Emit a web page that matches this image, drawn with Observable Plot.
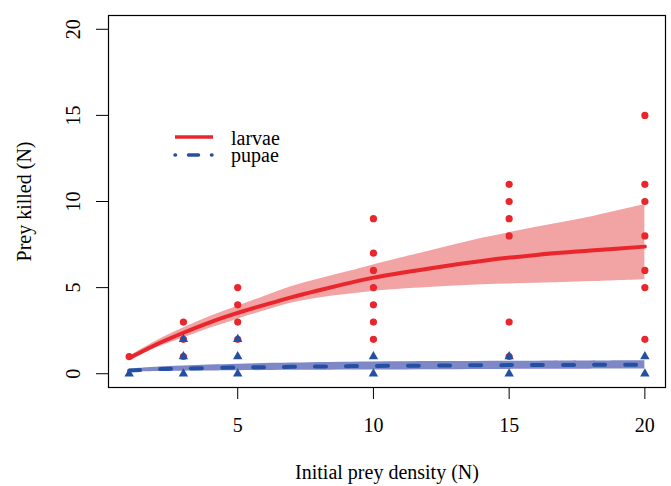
<!DOCTYPE html>
<html><head><meta charset="utf-8">
<script src="https://cdn.jsdelivr.net/npm/d3@7"></script>
<script src="https://cdn.jsdelivr.net/npm/@observablehq/plot@0.6"></script>
<style>body{margin:0;background:#fff}</style>
</head><body><div id="chart"></div>
<script>
// observed prey killed
const larvaeN      = [1, 3,3,3, 5,5,5,5, 10,10,10,10,10,10,10, 15,15,15,15,15,15, 20,20,20,20,20,20,20];
const larvaeKilled = [1, 3,2,1, 5,4,3,2, 9,7,6,5,4,3,2,        11,10,9,8,3,1,     15,11,10,8,6,5,2];
const pupaeN       = [1, 3,3,3, 5,5,5, 10,10, 15,15, 20,20];
const pupaeKilled  = [0, 2,1,0, 2,1,0, 1,0,   1,0,   1,0];
// fitted functional response with confidence band
const fitN       = [1, 2, 3, 4, 5, 6, 7, 8, 9, 10, 12, 14, 16, 18, 20];
const larvaeFit  = [0.9, 1.7, 2.38, 3.0, 3.53, 4.0, 4.45, 4.85, 5.23, 5.58, 6.1, 6.55, 6.9, 7.15, 7.38];
const larvaeLo   = [0.75, 1.5, 2.07, 2.65, 3.17, 3.65, 4.11, 4.4, 4.6, 4.78, 5.0, 5.17, 5.25, 5.35, 5.46];
const larvaeHi   = [1.0, 1.9, 2.65, 3.33, 3.92, 4.5, 5.07, 5.5, 5.9, 6.32, 7.1, 7.86, 8.5, 9.1, 9.82];
const pupaeFitN  = [1, 2, 3, 5, 7, 10, 15, 20];
const pupaeFit   = [0.18, 0.26, 0.3, 0.36, 0.4, 0.45, 0.5, 0.52];
const pupaeLo    = [0.08, 0.13, 0.15, 0.17, 0.2, 0.22, 0.25, 0.27];
const pupaeHi    = [0.28, 0.38, 0.45, 0.55, 0.62, 0.68, 0.72, 0.75];
const xTicks = [5, 10, 15, 20];
const yTicks = [0, 5, 10, 15, 20];
const seriesNames = ["larvae", "pupae"];

const red = "#e8262c", redBand = "#f2a3a4", blue = "#2350a3", blueBand = "#7f88c6";
const larvaePts = larvaeN.map((n, i) => ({N: n, k: larvaeKilled[i]}));
const pupaePts = pupaeN.map((n, i) => ({N: n, k: pupaeKilled[i]}));
const larvaeCurve = fitN.map((n, i) => ({N: n, fit: larvaeFit[i], lo: larvaeLo[i], hi: larvaeHi[i]}));
const pupaeCurve = pupaeFitN.map((n, i) => ({N: n, fit: pupaeFit[i], lo: pupaeLo[i], hi: pupaeHi[i]}));

const font = "Liberation Serif";
const txt = {fontSize: 20, fill: "#000", fontFamily: font, textAnchor: "middle", lineAnchor: "middle"};
const chart = Plot.plot({
  width: 671, height: 486,
  marginLeft: 108, marginRight: 6, marginTop: 15, marginBottom: 99,
  x: {domain: [0.24, 20.76]},
  y: {domain: [-0.8, 20.8]},
  style: {fontFamily: font, fontSize: "20px", background: "#fff", color: "#000"},
  marks: [
    Plot.areaY(larvaeCurve, {x: "N", y1: "lo", y2: "hi", fill: redBand, curve: "catmull-rom"}),
    Plot.areaY(pupaeCurve, {x: "N", y1: "lo", y2: "hi", fill: blueBand, curve: "catmull-rom"}),
    Plot.line(larvaeCurve, {x: "N", y: "fit", stroke: red, strokeWidth: 4, curve: "catmull-rom"}),
    Plot.line(pupaeCurve, {x: "N", y: "fit", stroke: blue, strokeWidth: 4, strokeDasharray: "11,20", strokeLinecap: "round", curve: "catmull-rom"}),
    Plot.dot(larvaePts, {x: "N", y: "k", r: 3.6, fill: red}),
    Plot.dot(pupaePts, {x: "N", y: "k", r: 3.5, symbol: "triangle", fill: blue}),
    Plot.frame({stroke: "#000", strokeWidth: 1.2}),
    Plot.axisX({ticks: xTicks, tickSize: 12, tickFormat: () => "", label: null, stroke: "#000"}),
    Plot.axisY({ticks: yTicks, tickSize: 12, tickFormat: () => "", label: null, stroke: "#000"}),
    Plot.text(xTicks, {...txt, x: d => d, frameAnchor: "bottom", dy: 38, text: d => String(d)}),
    Plot.text(yTicks, {...txt, y: d => d, frameAnchor: "left", dx: -35, rotate: -90, text: d => String(d)}),
    Plot.text(["Initial prey density (N)"], {...txt, frameAnchor: "bottom", dy: 85, text: d => d}),
    Plot.text(["Prey killed (N)"], {...txt, frameAnchor: "left", dx: -84, rotate: -90, text: d => d})
  ]
});
document.getElementById("chart").appendChild(chart);

// legend
const svg = d3.select(chart);
const lg = svg.append("g");
lg.append("line").attr("x1", 175).attr("x2", 213).attr("y1", 137).attr("y2", 137)
  .attr("stroke", red).attr("stroke-width", 3.5);
lg.append("line").attr("x1", 175).attr("x2", 212).attr("y1", 155).attr("y2", 155)
  .attr("stroke", blue).attr("stroke-width", 3.5).attr("stroke-linecap", "round")
  .attr("stroke-dasharray", "0.5,13,10,13");
[[seriesNames[0], 145, 20], [seriesNames[1], 162, 20]].forEach(([name, yy, fs]) => {
  lg.append("text").attr("x", 231).attr("y", yy)
    .attr("text-anchor", "start").attr("font-family", font).attr("font-size", fs)
    .attr("fill", "#000").text(name);
});
</script>
</body></html>
